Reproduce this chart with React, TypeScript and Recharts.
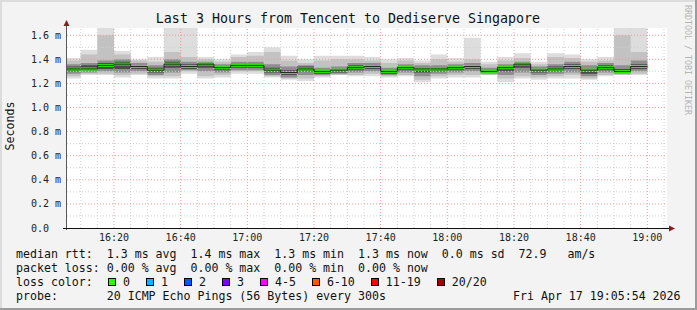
import { ComposedChart, Area, Line, XAxis, YAxis, ReferenceLine } from 'recharts'

// 5 minute slots (first one is the partial slot at the left edge)
const slots = [
  '16:05:54', '16:10', '16:15', '16:20', '16:25', '16:30', '16:35', '16:40', '16:45', '16:50', '16:55',
  '17:00', '17:05', '17:10', '17:15', '17:20', '17:25', '17:30', '17:35', '17:40', '17:45', '17:50', '17:55',
  '18:00', '18:05', '18:10', '18:15', '18:20', '18:25', '18:30', '18:35', '18:40', '18:45', '18:50', '18:55',
]
const slotsEnd = '19:00'

// rtt in ms, sorted-ping bands from outside (lightest) to inside (darkest)
const rttMax = [1.41, 1.48, 1.7, 1.47, 1.4, 1.42, 1.7, 1.7, 1.42, 1.4, 1.44, 1.46, 1.5, 1.43, 1.4, 1.43, 1.43, 1.43, 1.42, 1.4, 1.41, 1.39, 1.44, 1.41, 1.58, 1.38, 1.42, 1.45, 1.38, 1.45, 1.44, 1.4, 1.42, 1.7, 1.7]
const rttHi1 = [1.39, 1.44, 1.6, 1.44, 1.39, 1.38, 1.46, 1.42, 1.4, 1.38, 1.42, 1.43, 1.46, 1.39, 1.37, 1.39, 1.4, 1.4, 1.39, 1.37, 1.39, 1.37, 1.4, 1.38, 1.4, 1.36, 1.39, 1.41, 1.36, 1.42, 1.41, 1.38, 1.39, 1.6, 1.46]
const rttHi2 = [1.36, 1.37, 1.39, 1.4, 1.37, 1.35, 1.4, 1.38, 1.38, 1.36, 1.38, 1.38, 1.36, 1.34, 1.35, 1.33, 1.34, 1.37, 1.37, 1.33, 1.36, 1.35, 1.35, 1.36, 1.37, 1.33, 1.36, 1.38, 1.34, 1.36, 1.38, 1.35, 1.37, 1.35, 1.39]
const rttHi3 = [1.34, 1.35, 1.37, 1.38, 1.35, 1.33, 1.38, 1.36, 1.37, 1.34, 1.36, 1.36, 1.33, 1.31, 1.34, 1.31, 1.32, 1.35, 1.35, 1.31, 1.34, 1.33, 1.33, 1.34, 1.35, 1.31, 1.34, 1.37, 1.32, 1.34, 1.36, 1.32, 1.35, 1.32, 1.36]
const rttMedian = [1.32, 1.32, 1.35, 1.36, 1.34, 1.31, 1.36, 1.34, 1.36, 1.33, 1.35, 1.35, 1.31, 1.29, 1.32, 1.3, 1.31, 1.33, 1.34, 1.3, 1.33, 1.32, 1.32, 1.33, 1.34, 1.3, 1.33, 1.36, 1.31, 1.32, 1.34, 1.31, 1.33, 1.3, 1.34]
const rttLo3 = [1.3, 1.31, 1.32, 1.32, 1.32, 1.29, 1.33, 1.32, 1.33, 1.31, 1.33, 1.33, 1.29, 1.27, 1.3, 1.28, 1.29, 1.31, 1.32, 1.28, 1.31, 1.29, 1.3, 1.31, 1.32, 1.29, 1.3, 1.33, 1.29, 1.3, 1.32, 1.28, 1.31, 1.29, 1.32]
const rttLo2 = [1.28, 1.29, 1.3, 1.29, 1.3, 1.27, 1.29, 1.31, 1.3, 1.29, 1.31, 1.31, 1.27, 1.25, 1.27, 1.27, 1.28, 1.29, 1.3, 1.27, 1.29, 1.26, 1.28, 1.29, 1.3, 1.28, 1.27, 1.29, 1.27, 1.28, 1.29, 1.26, 1.29, 1.28, 1.3]
const rttLo1 = [1.26, 1.28, 1.28, 1.27, 1.28, 1.26, 1.26, 1.3, 1.26, 1.27, 1.3, 1.3, 1.26, 1.24, 1.24, 1.26, 1.27, 1.27, 1.28, 1.26, 1.27, 1.23, 1.26, 1.27, 1.27, 1.27, 1.24, 1.26, 1.25, 1.26, 1.27, 1.24, 1.27, 1.27, 1.28]
const rttMin = [1.24, 1.27, 1.27, 1.25, 1.27, 1.24, 1.24, 1.28, 1.24, 1.25, 1.28, 1.28, 1.25, 1.23, 1.22, 1.25, 1.27, 1.26, 1.26, 1.25, 1.26, 1.21, 1.24, 1.25, 1.25, 1.27, 1.21, 1.24, 1.23, 1.24, 1.24, 1.23, 1.26, 1.27, 1.27]

const xTicks = [20, 40, 60, 80, 100, 120, 140, 160, 180]
const yTicks = [0, 0.2, 0.4, 0.6, 0.8, 1.0, 1.2, 1.4, 1.6]

const lossColors = [
  { label: '0', color: '#26ff00' },
  { label: '1', color: '#00b8ff' },
  { label: '2', color: '#0059ff' },
  { label: '3', color: '#7e00ff' },
  { label: '4-5', color: '#ff00ff' },
  { label: '6-10', color: '#ff5500' },
  { label: '11-19', color: '#ff0000' },
  { label: '20/20', color: '#a10000' },
]

const toMinutes = (s: string) => {
  const [h, m, sec] = s.split(':').map(Number)
  return (h - 16) * 60 + m + (sec || 0) / 60
}

const rows = [...slots, slotsEnd].map((s, i) => {
  const k = Math.min(i, slots.length - 1)
  return {
    t: toMinutes(s),
    b0: [rttMin[k], rttMax[k]],
    b1: [rttLo1[k], rttHi1[k]],
    b2: [rttLo2[k], rttHi2[k]],
    b3: [rttLo3[k], rttHi3[k]],
    median: rttMedian[k],
    band: [rttMedian[k] - 0.012, rttMedian[k] + 0.012],
  }
})

const T0 = toMinutes('16:05:54')
const T1 = T0 + 180

const minorX: number[] = []
for (let m = 10; m < T1; m += 5) if (m % 20 !== 0) minorX.push(m)
const minorY = [0.1, 0.3, 0.5, 0.7, 0.9, 1.1, 1.3, 1.5]

const MONO = '"DejaVu Sans Mono", monospace'

const fmtTime = (m: number) => {
  const h = 16 + Math.floor(m / 60)
  const mm = m % 60
  return `${h}:${mm < 10 ? '0' : ''}${mm}`
}

const YTick = (props: any) => {
  const v = props.payload.value
  const label = v === 0 ? '0.0' : `${v.toFixed(1)} m`
  return (
    <text x={31} y={props.y} dy="0.35em" fontSize={10} fontFamily={MONO} fill="#222">
      {label}
    </text>
  )
}

const XTick = (props: any) => (
  <text x={props.x} y={241} textAnchor="middle" fontSize={10} fontFamily={MONO} fill="#222">
    {fmtTime(props.payload.value)}
  </text>
)

const line = (top: number, left: number, text: string) => (
  <div style={{ position: 'absolute', top, left, whiteSpace: 'pre', lineHeight: '14px' }}>{text}</div>
)

export default function App() {
  return (
    <div
      style={{
        position: 'absolute', left: 0, top: 0, width: 697, height: 310,
        background: '#f3f3f3', fontFamily: MONO, fontSize: 11.6, color: '#111', overflow: 'hidden',
      }}
    >
      {/* plot canvas */}
      <div style={{ position: 'absolute', left: 67, top: 28, width: 600, height: 200, background: '#fff' }} />

      <div style={{ position: 'absolute', left: 0, top: 0 }}>
        <ComposedChart width={697} height={310} data={rows} margin={{ top: 28, right: 30, bottom: 62, left: 0 }}>
          <XAxis
            dataKey="t" type="number" domain={[T0, T1]} allowDataOverflow
            ticks={xTicks} tick={<XTick />} tickLine={false} axisLine={false} height={20}
          />
          <YAxis
            type="number" domain={[0, 1.66]} allowDataOverflow
            ticks={yTicks} tick={<YTick />} tickLine={false} axisLine={false} width={67}
          />
          <Area dataKey="b0" type="stepAfter" stroke="none" fill="#dddddd" fillOpacity={1} isAnimationActive={false} />
          <Area dataKey="b1" type="stepAfter" stroke="none" fill="#c2c2c2" fillOpacity={1} isAnimationActive={false} />
          <Area dataKey="b2" type="stepAfter" stroke="none" fill="#8e8e8e" fillOpacity={1} isAnimationActive={false} />
          <Area dataKey="b3" type="stepAfter" stroke="none" fill="#4a4a4a" fillOpacity={1} isAnimationActive={false} />

          {minorX.map((m) => (
            <ReferenceLine key={'mx' + m} x={m} stroke="#cfcfcf" strokeDasharray="1 2" />
          ))}
          {minorY.map((v) => (
            <ReferenceLine key={'my' + v} y={v} stroke="#cfcfcf" strokeDasharray="1 2" />
          ))}
          {xTicks.map((m) => (
            <ReferenceLine key={'Mx' + m} x={m} stroke="#f09a9a" strokeDasharray="1 2" />
          ))}
          {yTicks.filter((v) => v > 0).map((v) => (
            <ReferenceLine key={'My' + v} y={v} stroke="#f09a9a" strokeDasharray="1 2" />
          ))}

          <Line dataKey="median" type="stepAfter" stroke="#202020" strokeWidth={1} dot={false} isAnimationActive={false} />
          <Area dataKey="band" type="stepAfter" stroke="none" fill="#26ff00" fillOpacity={1} isAnimationActive={false} />
        </ComposedChart>
      </div>

      {/* axes, arrows, labels */}
      <svg width={697} height={310} style={{ position: 'absolute', left: 0, top: 0, pointerEvents: 'none' }}>
        <line x1={66.5} y1={230} x2={66.5} y2={24} stroke="#5a5a5a" strokeWidth={1} />
        <line x1={63} y1={228.5} x2={670} y2={228.5} stroke="#111" strokeWidth={1} />
        <polygon points="63.5,26 69.5,26 66.5,20" fill="#8b1a1a" />
        <polygon points="669,225.5 669,231.5 675,228.5" fill="#8b1a1a" />
        <text x={348} y={23} textAnchor="middle" fontSize={13.3} fontFamily={MONO} fill="#111">
          Last 3 Hours from Tencent to Dediserve Singapore
        </text>
        <text x={14} y={126} textAnchor="middle" fontSize={11.6} fontFamily={MONO} fill="#111" transform="rotate(-90 14 126)">
          Seconds
        </text>
        <text x={685} y={60} textAnchor="middle" fontSize={8.3} fontFamily={MONO} fill="#b5b5b5" transform="rotate(90 685 60)">
          RRDTOOL / TOBI OETIKER
        </text>
      </svg>

      {line(247, 16, 'median rtt:  1.3 ms avg  1.4 ms max  1.3 ms min  1.3 ms now  0.0 ms sd  72.9   am/s')}
      {line(261, 16, 'packet loss: 0.00 % avg  0.00 % max  0.00 % min  0.00 % now')}
      {line(275, 16, 'loss color:')}
      <div style={{ position: 'absolute', top: 275, left: 108, height: 14, display: 'flex', alignItems: 'center', whiteSpace: 'pre', lineHeight: '14px' }}>
        {lossColors.map((c) => (
          <div key={c.label} style={{ display: 'flex', alignItems: 'center', marginRight: 16 }}>
            <div style={{ width: 8, height: 8, boxSizing: 'border-box', border: '1px solid #000', background: c.color, marginRight: 7 }} />
            <span>{c.label}</span>
          </div>
        ))}
      </div>
      {line(289, 16, 'probe:       20 ICMP Echo Pings (56 Bytes) every 300s')}
      {line(289, 513, 'Fri Apr 17 19:05:54 2026')}

      {/* 3D frame */}
      <div style={{ position: 'absolute', left: 0, top: 0, width: 697, height: 2, background: '#dcdcdc' }} />
      <div style={{ position: 'absolute', left: 0, top: 0, width: 2, height: 310, background: '#dcdcdc' }} />
      <div style={{ position: 'absolute', left: 695, top: 0, width: 2, height: 310, background: '#9c9c9c' }} />
      <div style={{ position: 'absolute', left: 0, top: 308, width: 697, height: 2, background: '#9c9c9c' }} />
    </div>
  )
}
